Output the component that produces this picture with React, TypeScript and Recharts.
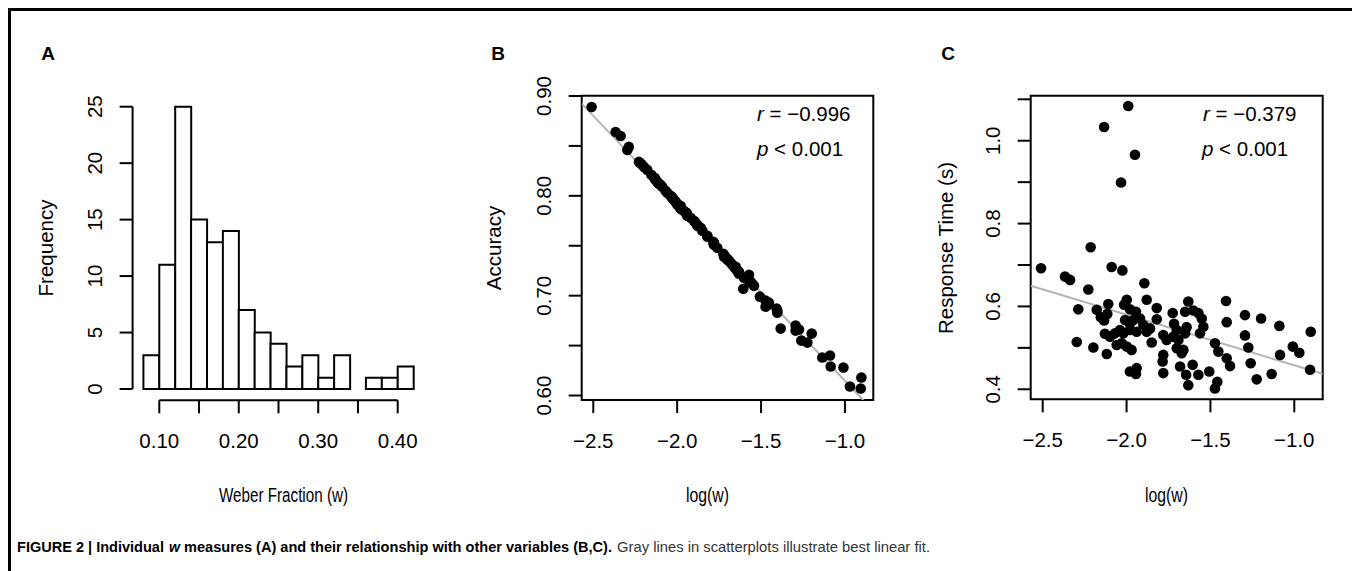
import React from 'react';
import {
  ComposedChart,
  ScatterChart,
  Scatter,
  Bar,
  XAxis,
  YAxis,
  ReferenceLine,
  ReferenceArea,
} from 'recharts';

// ---------- DATA ----------
// Panel A: histogram of Weber fractions (bin starts, width 0.02)
const binStarts = [0.08, 0.10, 0.12, 0.14, 0.16, 0.18, 0.20, 0.22, 0.24, 0.26, 0.28, 0.30, 0.32, 0.34, 0.36, 0.38, 0.40];
const binCounts = [3, 11, 25, 15, 13, 14, 7, 5, 4, 2, 3, 1, 3, 0, 1, 1, 2];
const BIN_WIDTH = 0.02;
const histXTicks = [0.10, 0.15, 0.20, 0.25, 0.30, 0.35, 0.40];
const histXLabels = ['0.10', '', '0.20', '', '0.30', '', '0.40'];
const histYTicks = [0, 5, 10, 15, 20, 25];
const histYLabels = ['0', '5', '10', '15', '20', '25'];

// Panels B & C: per-participant log(w), accuracy, response time
const logW = [
  -2.510, -2.214, -2.367, -2.337, -2.089, -2.025, -2.228, -1.894, -2.288, -2.297,
  -2.198, -2.118, -2.109, -2.178, -2.154, -2.134, -2.115, -1.999, -2.015, -1.980,
  -1.944, -1.880, -1.820, -2.009, -1.980, -1.960, -1.920, -1.900, -1.820, -1.860,
  -1.880, -2.129, -2.099, -2.069, -2.039, -2.019, -1.980, -1.940, -2.059, -2.029,
  -1.999, -1.970, -1.850, -1.781, -1.761, -1.725, -1.717, -1.701, -1.721, -1.691,
  -1.632, -1.651, -1.602, -1.572, -1.642, -1.651, -1.552, -1.542, -1.562, -1.701,
  -1.671, -1.661, -1.781, -1.785, -1.781, -1.980, -1.940, -1.944, -1.681, -1.645,
  -1.606, -1.572, -1.632, -1.507, -1.473, -1.459, -1.473, -1.453, -1.403, -1.383,
  -1.407, -1.403, -1.294, -1.294, -1.274, -1.260, -1.224, -1.198, -1.135, -1.089,
  -1.085, -1.009, -0.970, -0.902, -0.906, -1.990, -2.134, -1.950, -2.033,
];
const accuracy = [
  0.889, 0.832, 0.864, 0.860, 0.809, 0.797, 0.834, 0.774, 0.849, 0.846,
  0.829, 0.814, 0.812, 0.826, 0.821, 0.817, 0.813, 0.792, 0.795, 0.789,
  0.782, 0.771, 0.759, 0.794, 0.788, 0.785, 0.778, 0.775, 0.760, 0.768,
  0.770, 0.816, 0.811, 0.805, 0.800, 0.796, 0.790, 0.781, 0.803, 0.798,
  0.791, 0.786, 0.765, 0.751, 0.748, 0.742, 0.740, 0.736, 0.739, 0.735,
  0.724, 0.727, 0.718, 0.721, 0.725, 0.729, 0.712, 0.710, 0.714, 0.737,
  0.731, 0.729, 0.753, 0.754, 0.752, 0.787, 0.780, 0.783, 0.733, 0.726,
  0.707, 0.715, 0.722, 0.699, 0.689, 0.691, 0.695, 0.693, 0.685, 0.667,
  0.687, 0.683, 0.670, 0.665, 0.666, 0.655, 0.653, 0.662, 0.638, 0.640,
  0.629, 0.628, 0.609, 0.618, 0.607, 0.790, 0.818, 0.783, 0.799,
];
const responseTime = [
  0.692, 0.743, 0.672, 0.664, 0.695, 0.687, 0.641, 0.656, 0.593, 0.514,
  0.501, 0.485, 0.606, 0.592, 0.574, 0.566, 0.582, 0.616, 0.604, 0.593,
  0.587, 0.616, 0.596, 0.567, 0.559, 0.567, 0.571, 0.555, 0.569, 0.547,
  0.539, 0.534, 0.527, 0.535, 0.543, 0.535, 0.543, 0.539, 0.507, 0.511,
  0.503, 0.495, 0.513, 0.531, 0.519, 0.584, 0.558, 0.543, 0.527, 0.519,
  0.612, 0.587, 0.590, 0.584, 0.550, 0.535, 0.571, 0.551, 0.535, 0.499,
  0.487, 0.495, 0.483, 0.467, 0.439, 0.443, 0.451, 0.437, 0.455, 0.435,
  0.459, 0.435, 0.410, 0.443, 0.402, 0.418, 0.511, 0.491, 0.475, 0.456,
  0.613, 0.562, 0.579, 0.530, 0.501, 0.463, 0.424, 0.571, 0.437, 0.553,
  0.483, 0.503, 0.488, 0.539, 0.447, 1.084, 1.033, 0.966, 0.899,
];

const logWTicks = [-2.5, -2.0, -1.5, -1.0];
const logWLabels = ['\u22122.5', '\u22122.0', '\u22121.5', '\u22121.0'];
const accYTicks = [0.60, 0.65, 0.70, 0.75, 0.80, 0.85, 0.90];
const accYLabels = ['0.60', '', '0.70', '', '0.80', '', '0.90'];
const rtYTicks = [0.4, 0.5, 0.6, 0.7, 0.8, 0.9, 1.0, 1.1];
const rtYLabels = ['0.4', '', '0.6', '', '0.8', '', '1.0', ''];

// best linear fits
const fitAccuracy = { intercept: 0.4377, slope: -0.177 };
const fitRT = { intercept: 0.336, slope: -0.122 };

const statsB = { r: '\u22120.996', p: '0.001' };
const statsC = { r: '\u22120.379', p: '0.001' };

// ---------- STYLE ----------
const FONT = "'Liberation Sans', Arial, Helvetica, sans-serif";
const FS = 20.5;

const histData = binStarts.map((s, i) => ({ x: s + BIN_WIDTH / 2, count: binCounts[i] }));
const scatterB = logW.map((x, i) => ({ x, y: accuracy[i] }));
const scatterC = logW.map((x, i) => ({ x, y: responseTime[i] }));

const histXDomain: [number, number] = [0.0664, 0.4336];
const histYDomain: [number, number] = [-1, 26];
const bXDomain: [number, number] = [-2.569, -0.831];
const bYDomain: [number, number] = [0.5955, 0.9003];
const cXDomain: [number, number] = [-2.5716, -0.8306];
const cYDomain: [number, number] = [0.3758, 1.1087];

function findLabel(ticks: number[], labels: string[], v: number) {
  const i = ticks.findIndex((t) => Math.abs(t - v) < 1e-9);
  return i >= 0 ? labels[i] : '';
}

function makeXTick(ticks: number[], labels: string[]) {
  return (props: any) => {
    const { x, y, payload } = props;
    const label = findLabel(ticks, labels, payload.value);
    if (!label) return <g />;
    return (
      <text x={x} y={y + 27} textAnchor="middle" dominantBaseline="central" fontSize={FS} fontFamily={FONT} fill="#000">
        {label}
      </text>
    );
  };
}

function makeYTick(ticks: number[], labels: string[]) {
  return (props: any) => {
    const { x, y, payload } = props;
    const label = findLabel(ticks, labels, payload.value);
    if (!label) return <g />;
    const cx = x - 25;
    return (
      <text x={cx} y={y} transform={`rotate(-90 ${cx} ${y})`} textAnchor="middle" dominantBaseline="central" fontSize={FS} fontFamily={FONT} fill="#000">
        {label}
      </text>
    );
  };
}

const tickLineStyle = { stroke: '#000', strokeWidth: 2 };

const Dot = (p: any) => <circle cx={p.cx} cy={p.cy} r={5.3} fill="#000" />;

function PanelA() {
  return (
    <div style={{ position: 'absolute', left: 0, top: 0 }}>
      <ComposedChart
        width={440}
        height={470}
        data={histData}
        barCategoryGap={0}
        barGap={0}
        margin={{ top: 87.4, right: 23.6, bottom: 17.7, left: 54.6 }}
      >
        <XAxis
          dataKey="x"
          type="number"
          domain={histXDomain}
          allowDataOverflow
          ticks={histXTicks}
          interval={0}
          axisLine={false}
          tickLine={tickLineStyle}
          tickSize={13}
          tickMargin={0}
          height={60}
          tick={makeXTick(histXTicks, histXLabels)}
        />
        <YAxis
          type="number"
          domain={histYDomain}
          allowDataOverflow
          ticks={histYTicks}
          interval={0}
          axisLine={false}
          tickLine={tickLineStyle}
          tickSize={13}
          tickMargin={0}
          width={70}
          tick={makeYTick(histYTicks, histYLabels)}
        />
        <Bar dataKey="count" fill="#fff" stroke="#000" strokeWidth={2} isAnimationActive={false} />
        <ReferenceLine
          segment={[{ x: histXTicks[0], y: histYDomain[0] }, { x: histXTicks[histXTicks.length - 1], y: histYDomain[0] }]}
          stroke="#000"
          strokeWidth={2}
          ifOverflow="visible"
        />
        <ReferenceLine
          segment={[{ x: histXDomain[0], y: histYTicks[0] }, { x: histXDomain[0], y: histYTicks[histYTicks.length - 1] }]}
          stroke="#000"
          strokeWidth={2}
          ifOverflow="visible"
        />
      </ComposedChart>
    </div>
  );
}

function ScatterPanel(props: {
  left: number;
  width: number;
  margin: any;
  data: { x: number; y: number }[];
  xDomain: [number, number];
  yDomain: [number, number];
  yTicks: number[];
  yLabels: string[];
  fit: { intercept: number; slope: number };
}) {
  const { left, width, margin, data, xDomain, yDomain, yTicks, yLabels, fit } = props;
  return (
    <div style={{ position: 'absolute', left, top: 0 }}>
      <ScatterChart width={width} height={470} margin={margin}>
        <XAxis
          dataKey="x"
          type="number"
          domain={xDomain}
          allowDataOverflow
          ticks={logWTicks}
          interval={0}
          axisLine={false}
          tickLine={tickLineStyle}
          tickSize={13}
          tickMargin={0}
          height={60}
          tick={makeXTick(logWTicks, logWLabels)}
        />
        <YAxis
          dataKey="y"
          type="number"
          domain={yDomain}
          allowDataOverflow
          ticks={yTicks}
          interval={0}
          axisLine={false}
          tickLine={tickLineStyle}
          tickSize={13}
          tickMargin={0}
          width={80}
          tick={makeYTick(yTicks, yLabels)}
        />
        <ReferenceArea
          x1={xDomain[0]}
          x2={xDomain[1]}
          y1={yDomain[0]}
          y2={yDomain[1]}
          fill="none"
          stroke="#000"
          strokeWidth={2}
          ifOverflow="visible"
        />
        <Scatter data={data} shape={Dot} isAnimationActive={false} />
        <ReferenceLine
          segment={[
            { x: xDomain[0], y: fit.intercept + fit.slope * xDomain[0] },
            { x: xDomain[1], y: fit.intercept + fit.slope * xDomain[1] },
          ]}
          stroke="#b4b4b4"
          strokeWidth={2}
          ifOverflow="hidden"
        />
      </ScatterChart>
    </div>
  );
}

const CAPTION_FONT = "'Liberation Sans', Arial, Helvetica, sans-serif";

function Overlay() {
  const t = { fontFamily: FONT, fontSize: FS, fill: '#000' } as const;
  const letter = { fontFamily: FONT, fontSize: 19, fontWeight: 'bold' as const, fill: '#000' };
  const cap = { fontFamily: CAPTION_FONT, fontSize: 14.5, lengthAdjust: 'spacingAndGlyphs' as const };
  return (
    <svg width={1349} height={563} style={{ position: 'absolute', left: 0, top: 0, pointerEvents: 'none' }}>
      <text x={40} y={45} textAnchor="middle" dominantBaseline="central" {...letter}>A</text>
      <text x={490} y={45} textAnchor="middle" dominantBaseline="central" {...letter}>B</text>
      <text x={940} y={45} textAnchor="middle" dominantBaseline="central" {...letter}>C</text>

      <text x={37} y={240} transform="rotate(-90 37 240)" textAnchor="middle" dominantBaseline="central" {...t}>Frequency</text>
      <text x={485} y={240} transform="rotate(-90 485 240)" textAnchor="middle" dominantBaseline="central" {...t}>Accuracy</text>
      <text x={937} y={240} transform="rotate(-90 937 240)" textAnchor="middle" dominantBaseline="central" {...t}>Response Time (s)</text>

      <text x={211} y={486} dominantBaseline="central" textLength={129} lengthAdjust="spacingAndGlyphs" {...t}>Weber Fraction (w)</text>
      <text x={678} y={486} dominantBaseline="central" textLength={43} lengthAdjust="spacingAndGlyphs" {...t}>log(w)</text>
      <text x={1137} y={486} dominantBaseline="central" textLength={43} lengthAdjust="spacingAndGlyphs" {...t}>log(w)</text>

      <text x={749} y={105} dominantBaseline="central" {...t}>
        <tspan fontStyle="italic">r</tspan> = {statsB.r}
      </text>
      <text x={749} y={140} dominantBaseline="central" {...t}>
        <tspan fontStyle="italic">p</tspan> &lt; {statsB.p}
      </text>
      <text x={1195} y={105} dominantBaseline="central" {...t}>
        <tspan fontStyle="italic">r</tspan> = {statsC.r}
      </text>
      <text x={1194} y={140} dominantBaseline="central" {...t}>
        <tspan fontStyle="italic">p</tspan> &lt; {statsC.p}
      </text>

      <text x={9} y={539} dominantBaseline="central" fontWeight="bold" fill="#000" textLength={147} {...cap}>
        FIGURE 2 | Individual
      </text>
      <text x={161} y={539} dominantBaseline="central" fontWeight="bold" fontStyle="italic" fill="#000" textLength={11} {...cap}>
        w
      </text>
      <text x={176} y={539} dominantBaseline="central" fontWeight="bold" fill="#000" textLength={428} {...cap}>
        measures (A) and their relationship with other variables (B,C).
      </text>
      <text x={609} y={539} dominantBaseline="central" fill="#333" textLength={313} {...cap}>
        Gray lines in scatterplots illustrate best linear fit.
      </text>
    </svg>
  );
}

export default function App() {
  return (
    <div style={{ position: 'relative', width: 1349, height: 563, background: '#fff' }}>
      <style>{`html,body{overflow:hidden;background:#fff;}`}</style>
      <div
        style={{
          position: 'absolute',
          left: 0,
          top: 0,
          width: 1349,
          height: 600,
          boxSizing: 'border-box',
          borderTop: '3px solid #000',
          borderLeft: '3px solid #000',
          borderRight: '3px solid #000',
        }}
      />
      <PanelA />
      <ScatterPanel
        left={432}
        width={450}
        margin={{ top: 87.7, right: 16.7, bottom: 18, left: 61.7 }}
        data={scatterB}
        xDomain={bXDomain}
        yDomain={bYDomain}
        yTicks={accYTicks}
        yLabels={accYLabels}
        fit={fitAccuracy}
      />
      <ScatterPanel
        left={882}
        width={460}
        margin={{ top: 87.7, right: 27.3, bottom: 18.7, left: 60.7 }}
        data={scatterC}
        xDomain={cXDomain}
        yDomain={cYDomain}
        yTicks={rtYTicks}
        yLabels={rtYLabels}
        fit={fitRT}
      />
      <Overlay />
    </div>
  );
}
